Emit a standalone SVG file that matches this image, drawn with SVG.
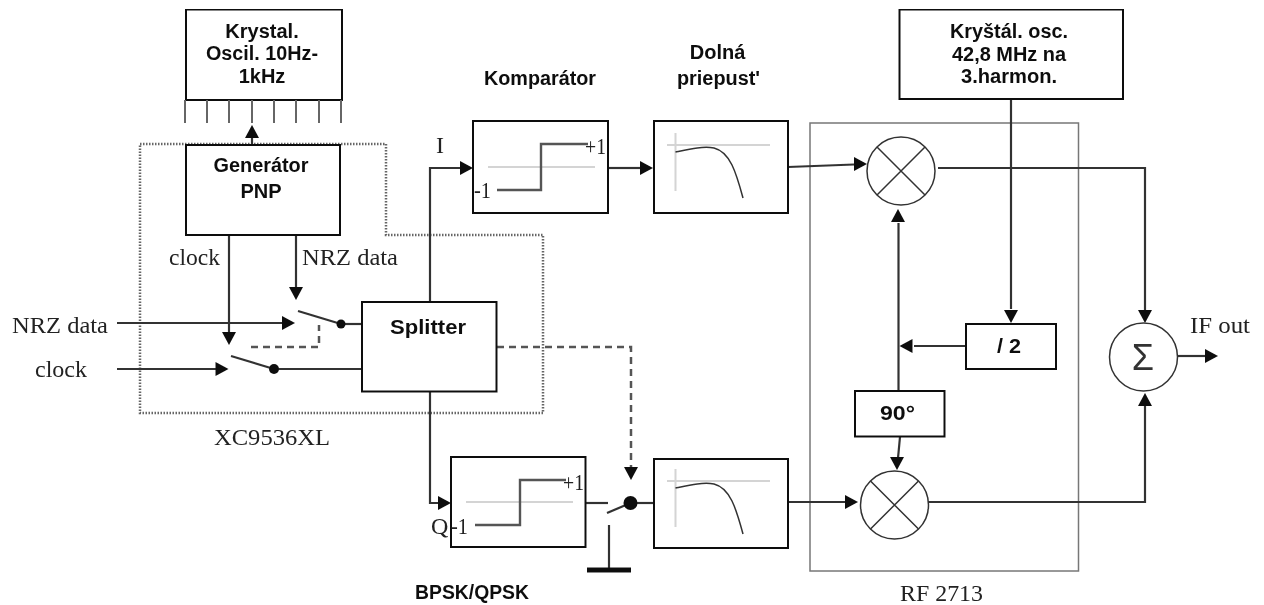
<svg xmlns="http://www.w3.org/2000/svg" width="1264" height="605" viewBox="0 0 1264 605">
<style>
.box{fill:#fff;stroke:#111;stroke-width:2}
.ln{fill:none;stroke:#333;stroke-width:2.200}
.thin{fill:none;stroke:#333;stroke-width:1.500}
.pin{fill:none;stroke:#666;stroke-width:2}
.dash{fill:none;stroke:#555;stroke-width:2.500;stroke-dasharray:7 5}
.dot{fill:none;stroke:#666;stroke-width:2.500;stroke-dasharray:1.500 1.500}
.grey{fill:none;stroke:#d4d4d4;stroke-width:2}
.step{fill:none;stroke:#555;stroke-width:2.400}
.ah{fill:#111}
.b{font-family:"Liberation Sans",Arial,sans-serif;font-weight:bold;font-size:20px;fill:#111}
.s{font-family:"Liberation Serif","Times New Roman",serif;font-size:24px;fill:#222}
.m{text-anchor:middle}
</style>
<defs>
<filter id="soft" x="0" y="0" width="100%" height="100%"><feGaussianBlur stdDeviation="0.400"/></filter>
<path id="aR" class="ah" d="M-13,-7 L0,0 L-13,7 Z"/>
<path id="aL" class="ah" d="M13,-7 L0,0 L13,7 Z"/>
<path id="aD" class="ah" d="M-7,-13 L0,0 L7,-13 Z"/>
<path id="aU" class="ah" d="M-7,13 L0,0 L7,13 Z"/>
<g id="lp">
<path class="grey" d="M675.500,133V191M667,145H770"/>
<path class="thin" d="M675.500,152C690,149 703,146 714,148C730,152 736,172 743,198"/>
</g>
<g id="mix">
<circle class="thin" r="34" fill="#fff"/>
<path class="thin" d="M-24,-24L24,24M24,-24L-24,24"/>
</g>
</defs>
<rect width="1264" height="605" fill="#fff"/>
<g filter="url(#soft)">
<g id="regions">
<path id="xc9536xl-frame" class="dot" d="M140,144H386V235H543V413H140Z"/>
<rect id="rf2713-frame" x="810" y="123" width="268.500" height="448" fill="none" stroke="#777" stroke-width="1.500"/>
</g>

<g id="connectors">
<path class="ln" d="M252,138V145"/>
<path class="ln" d="M229,235V333"/>
<path class="ln" d="M296,235V288"/>
<path class="ln" d="M117,323H283"/>
<path class="ln" d="M117,369H216"/>
<path class="ln" d="M341,324H362"/>
<path class="ln" d="M274,369H362"/>
<path class="ln" d="M430,302V168H461"/>
<path class="ln" d="M430,391V503H439"/>
<path class="ln" d="M608,168H640"/>
<path class="ln" d="M788,167L854,164.500"/>
<path class="ln" d="M938,168H1145V311"/>
<path class="ln" d="M898.500,391V223"/>
<path class="ln" d="M1011,99V309"/>
<path class="ln" d="M966,346H914"/>
<path class="ln" d="M900,437L898,458"/>
<path class="ln" d="M788,502H845"/>
<path class="ln" d="M928,502H1145V406"/>
<path class="ln" d="M1177,356H1205"/>
<path class="ln" d="M585.500,503H608"/>
<path class="ln" d="M630,503H654"/>
<path class="dash" d="M251,347H319V325"/>
<path class="dash" d="M497,347H631V467"/>
<use href="#aU" x="252" y="125"/>
<use href="#aD" x="229" y="345"/>
<use href="#aD" x="296" y="300"/>
<use href="#aR" x="295" y="323"/>
<use href="#aR" x="228.500" y="369"/>
<use href="#aR" x="473" y="168"/>
<use href="#aR" x="451" y="503"/>
<use href="#aR" x="653" y="168"/>
<use href="#aR" x="867" y="164"/>
<use href="#aU" x="898" y="209"/>
<use href="#aD" x="1011" y="323"/>
<use href="#aL" x="899.500" y="346"/>
<use href="#aD" x="897" y="470"/>
<use href="#aR" x="858" y="502"/>
<use href="#aD" x="1145" y="323"/>
<use href="#aU" x="1145" y="393"/>
<use href="#aR" x="1218" y="356"/>
<use href="#aD" x="631" y="480"/>
</g>

<g id="crystal-oscillator">
<rect class="box" x="186" y="9.500" width="156" height="90.500"/>
<path class="pin" d="M185,100V123M207,100V123M229,100V123M252,100V123M274,100V123M296,100V123M319,100V123M341,100V123"/>
<text class="b m" x="262" y="38">Krystal.</text>
<text class="b m" x="262" y="60" textLength="112" lengthAdjust="spacingAndGlyphs">Oscil. 10Hz-</text>
<text class="b m" x="262" y="83">1kHz</text>
</g>

<g id="generator-pnp">
<rect class="box" x="186" y="145" width="154" height="90"/>
<text class="b m" x="261" y="172" textLength="95" lengthAdjust="spacingAndGlyphs">Generátor</text>
<text class="b m" x="261" y="198">PNP</text>
</g>

<g id="splitter">
<rect class="box" x="362" y="302" width="134.500" height="89.500"/>
<text class="b" x="390" y="334" textLength="76" lengthAdjust="spacingAndGlyphs">Splitter</text>
</g>

<g id="switch-nrz">
<path class="ln" d="M298,311L341,324"/>
<circle cx="341" cy="324" r="4.500" fill="#111"/>
</g>
<g id="switch-clock">
<path class="ln" d="M231,356L274,369"/>
<circle cx="274" cy="369" r="5" fill="#111"/>
</g>

<g id="comparator-i">
<rect class="box" x="473" y="121" width="135" height="92"/>
<path class="grey" d="M488,167H595"/>
<path class="step" d="M497,190H541V144H588"/>
<text class="s" x="474" y="198" textLength="17" lengthAdjust="spacingAndGlyphs">-1</text>
<text class="s" x="585" y="154" textLength="21" lengthAdjust="spacingAndGlyphs">+1</text>
</g>

<g id="comparator-q">
<rect class="box" x="451" y="457" width="134.500" height="90"/>
<path class="grey" d="M466,502H573"/>
<path class="step" d="M475,525H520V480H566"/>
<text class="s" x="563" y="490" textLength="21" lengthAdjust="spacingAndGlyphs">+1</text>
<text class="s" x="451" y="534" textLength="17" lengthAdjust="spacingAndGlyphs">-1</text>
</g>

<g id="filter-i">
<rect class="box" x="654" y="121" width="134" height="92"/>
<use href="#lp"/>
</g>

<g id="filter-q">
<rect class="box" x="654" y="459" width="134" height="89"/>
<use href="#lp" y="336"/>
</g>

<g id="bpsk-qpsk-switch">
<path class="ln" d="M607,513L630.500,503"/>
<circle cx="630.500" cy="503" r="7" fill="#111"/>
<path class="ln" d="M609,525V568"/>
<path d="M587,570H631" fill="none" stroke="#111" stroke-width="5"/>
</g>

<g id="mixer-i"><use href="#mix" x="901" y="171"/></g>
<g id="mixer-q"><use href="#mix" x="894.500" y="505"/></g>

<g id="crystal-oscillator-42">
<rect class="box" x="899.500" y="9.500" width="223.500" height="89.500"/>
<text class="b m" x="1009" y="38" textLength="118" lengthAdjust="spacingAndGlyphs">Kryštál. osc.</text>
<text class="b m" x="1009" y="60.500" textLength="114" lengthAdjust="spacingAndGlyphs">42,8 MHz na</text>
<text class="b m" x="1009" y="83" textLength="96" lengthAdjust="spacingAndGlyphs">3.harmon.</text>
</g>

<g id="divider">
<rect class="box" x="966" y="324" width="90" height="45"/>
<text class="b" x="997" y="353" textLength="24" lengthAdjust="spacingAndGlyphs">/ 2</text>
</g>

<g id="phase-90">
<rect class="box" x="855" y="391" width="89.500" height="45.500"/>
<text class="b" x="880" y="420" textLength="35" lengthAdjust="spacingAndGlyphs">90°</text>
</g>

<g id="summer">
<circle class="thin" cx="1143.500" cy="357" r="34" fill="#fff"/>
<text x="1143" y="370" text-anchor="middle" font-family="Liberation Sans, sans-serif" font-size="36" fill="#333">Σ</text>
</g>

<g id="labels">
<text class="b" x="484" y="85" textLength="112" lengthAdjust="spacingAndGlyphs">Komparátor</text>
<text class="b m" x="717.500" y="59">Dolná</text>
<text class="b" x="677" y="85" textLength="83" lengthAdjust="spacingAndGlyphs">priepust'</text>
<text class="b" x="415" y="599" textLength="114" lengthAdjust="spacingAndGlyphs">BPSK/QPSK</text>
<text class="s" x="169" y="265" textLength="51" lengthAdjust="spacingAndGlyphs">clock</text>
<text class="s" x="302" y="265" textLength="96" lengthAdjust="spacingAndGlyphs">NRZ data</text>
<text class="s" x="436" y="153">I</text>
<text class="s" x="12" y="333" textLength="96" lengthAdjust="spacingAndGlyphs">NRZ data</text>
<text class="s" x="35" y="377" textLength="52" lengthAdjust="spacingAndGlyphs">clock</text>
<text class="s" x="214" y="445" textLength="116" lengthAdjust="spacingAndGlyphs">XC9536XL</text>
<text class="s" x="431" y="534">Q</text>
<text class="s" x="900" y="601" textLength="83" lengthAdjust="spacingAndGlyphs">RF 2713</text>
<text class="s" x="1190" y="333" textLength="60" lengthAdjust="spacingAndGlyphs">IF out</text>
</g>
</g>
</svg>
